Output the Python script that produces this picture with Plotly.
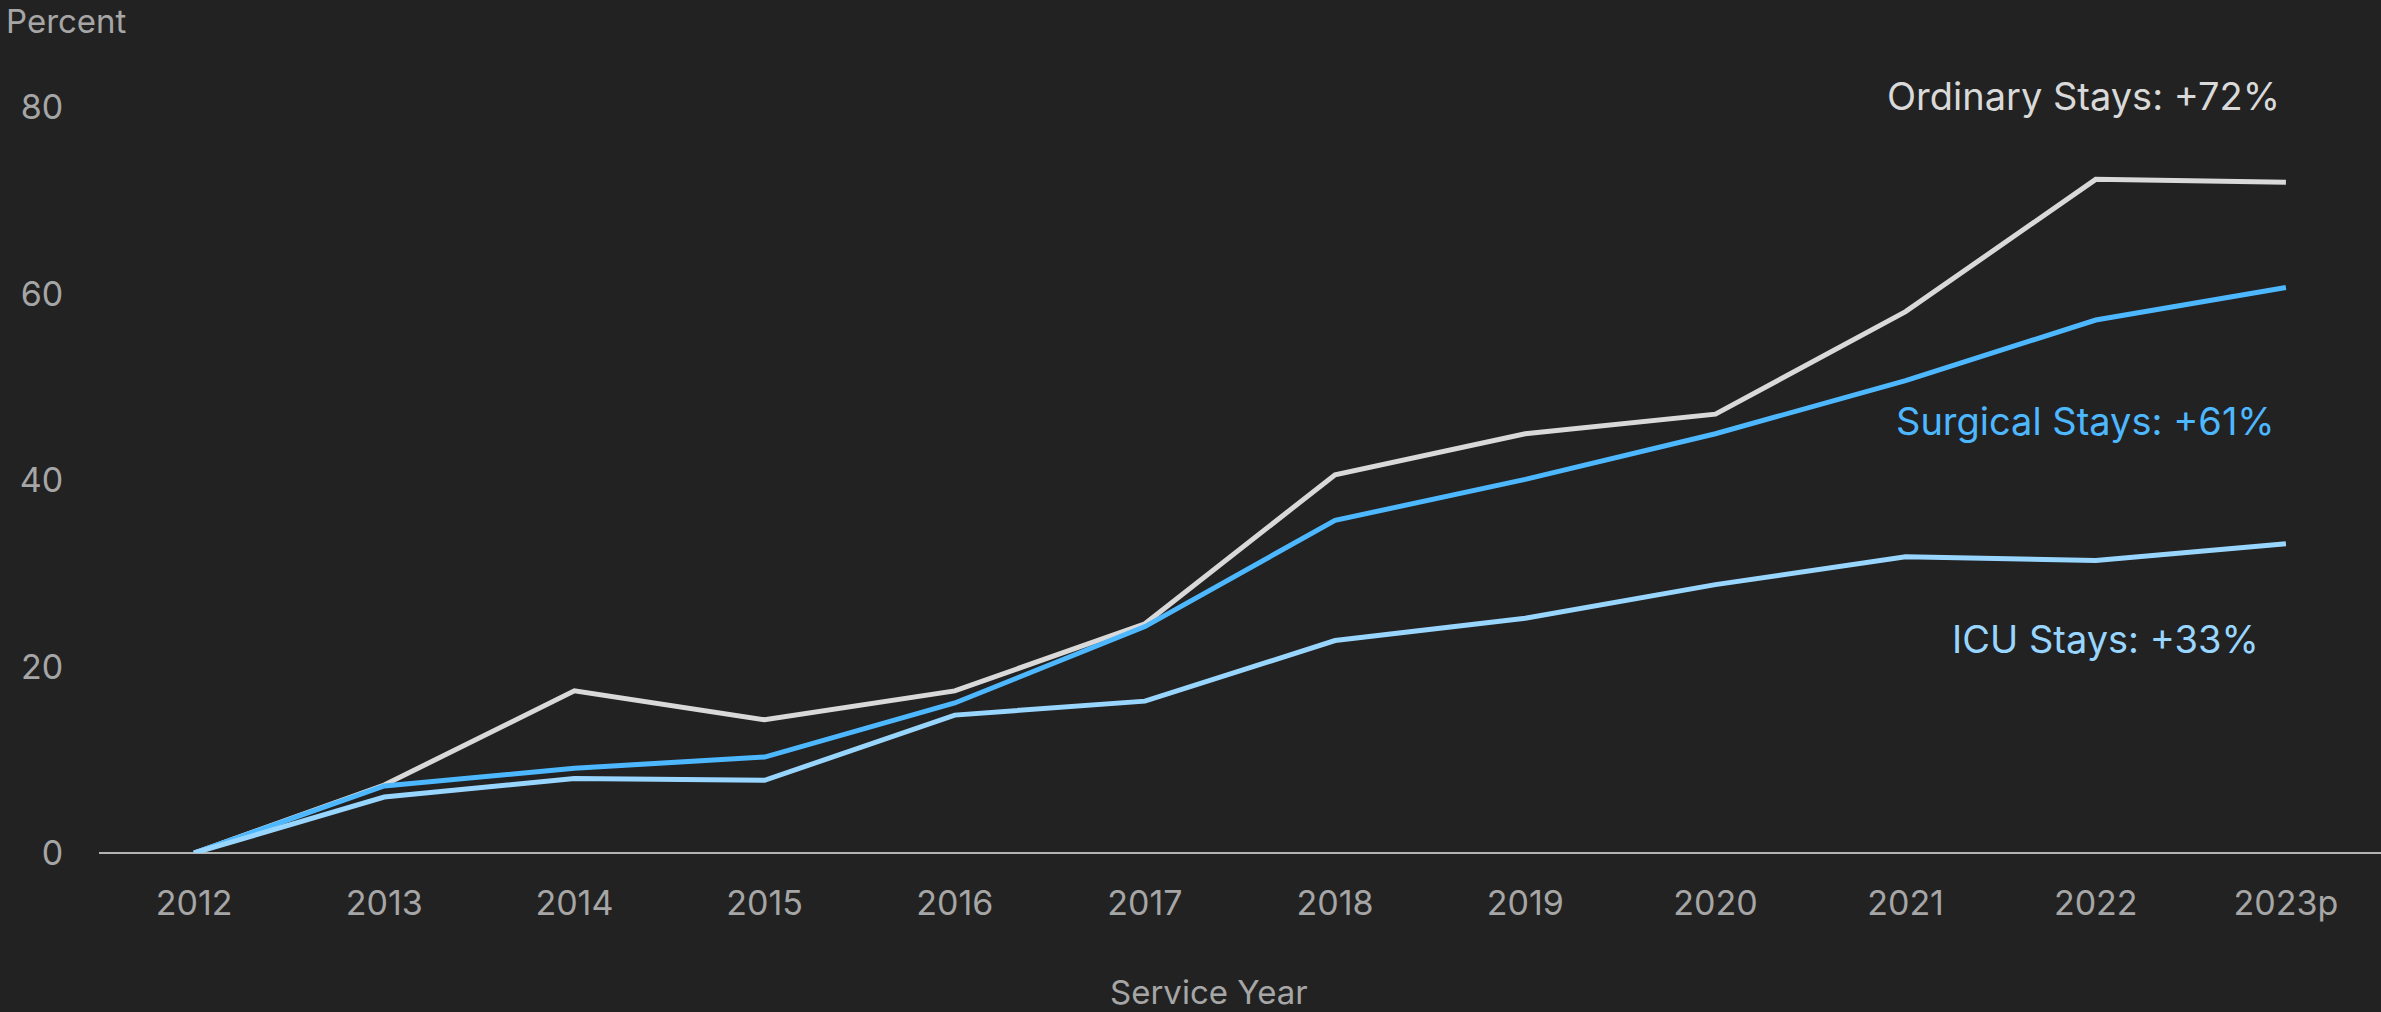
import plotly.graph_objs as go

# Service years on the x axis (2023 is preliminary)
years = ["2012", "2013", "2014", "2015", "2016", "2017",
         "2018", "2019", "2020", "2021", "2022", "2023p"]

# Cumulative growth since 2012, percent
ordinary = [0, 7.3, 17.4, 14.3, 17.4, 24.6, 40.6, 45.0, 47.1, 58.1, 72.3, 72.0]
surgical = [0, 7.2, 9.1, 10.3, 16.1, 24.3, 35.7, 40.1, 45.0, 50.7, 57.2, 60.7]
icu = [0, 6.0, 8.0, 7.8, 14.8, 16.3, 22.8, 25.2, 28.8, 31.8, 31.4, 33.2]

y_ticks = [0, 20, 40, 60, 80]

series = [
    ("Ordinary Stays", ordinary, "#d9d9d9", 81.2, -4),
    ("Surgical Stays", surgical, "#4db8ff", 46.4, -9),
    ("ICU Stays", icu, "#99d6ff", 23.0, -25),
]

BG = "#222222"
AXIS_TEXT = "#a6a6a6"
FONT = "Inter, Liberation Sans, Arial, sans-serif"

fig = go.Figure()

for name, values, color, label_y, shift in series:
    fig.add_trace(
        go.Scatter(
            x=years,
            y=values,
            mode="lines",
            name=name,
            line=dict(color=color, width=5),
            hovertemplate="%{x}: %{y:.1f}%<extra>" + name + "</extra>",
        )
    )
    # end-of-line label, right aligned near the last year
    fig.add_annotation(
        x=years[-1],
        y=label_y,
        xanchor="right",
        yanchor="middle",
        xshift=shift,
        text=f"{name}: +{round(values[-1])}%",
        showarrow=False,
        font=dict(family=FONT, size=38, color=color),
    )

fig.update_layout(
    width=2381,
    height=1012,
    showlegend=False,
    plot_bgcolor=BG,
    paper_bgcolor=BG,
    margin=dict(l=99, r=0, t=61, b=159),
    font=dict(family=FONT, size=33, color=AXIS_TEXT),
    xaxis=dict(
        type="category",
        range=[-0.5, 11.5],
        showgrid=False,
        zeroline=False,
        showline=False,
        ticks="outside",
        ticklen=20,
        tickcolor="rgba(0,0,0,0)",
        tickfont=dict(size=34, color=AXIS_TEXT),
    ),
    yaxis=dict(
        range=[0, 85],
        tickvals=y_ticks,
        showgrid=False,
        zeroline=True,
        zerolinecolor="#b3b3b3",
        zerolinewidth=2,
        showline=False,
        ticks="outside",
        ticklen=28,
        tickcolor="rgba(0,0,0,0)",
        tickfont=dict(size=34, color=AXIS_TEXT),
    ),
)

# axis titles placed as in the reference
fig.add_annotation(
    xref="paper", yref="paper", x=-95 / 2282, y=1 + 61 / 792,
    xanchor="left", yanchor="top", yshift=1,
    text="Percent", showarrow=False,
    font=dict(family=FONT, size=33, color=AXIS_TEXT),
)
fig.add_annotation(
    xref="paper", yref="paper", x=(1209 - 99) / 2282, y=-(992 - 853) / 792,
    xanchor="center", yanchor="middle",
    text="Service Year", showarrow=False,
    font=dict(family=FONT, size=33, color=AXIS_TEXT),
)

# drop the default page margin so the figure fills the window
fig.write_html(
    "out.html",
    config={"displayModeBar": False},
    post_script="document.body.style.margin='0';"
    "document.body.style.background='#222222';"
    "document.body.style.overflow='hidden';",
)
